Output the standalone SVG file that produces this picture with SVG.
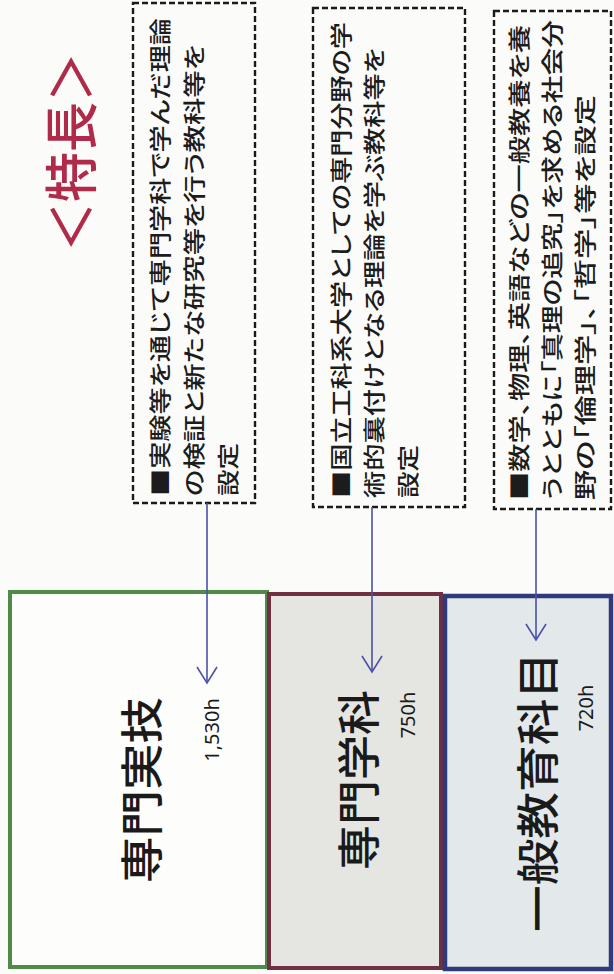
<svg xmlns="http://www.w3.org/2000/svg" width="614" height="974" viewBox="0 0 614 974">
<style>
.note{font-family:"Noto Sans CJK JP","Noto Sans CJK SC",sans-serif;font-size:22px;font-weight:500;fill:#1c1c1c;dominant-baseline:central;font-feature-settings:"palt"}
.big{font-family:"Noto Sans CJK JP","Noto Sans CJK SC",sans-serif;font-size:43px;font-weight:500;fill:#1a1a1a;dominant-baseline:central;text-anchor:middle}
.hrs{font-family:"Noto Sans","Open Sans",sans-serif;font-size:20px;fill:#1a1a1a;dominant-baseline:central;text-anchor:middle}
.dash{fill:none;stroke:#1a1a1a;stroke-width:2.4;stroke-dasharray:6 3}
.conn{stroke:#4b50a8;stroke-width:1.6;fill:none}
</style>
<defs>
<marker id="v" viewBox="-18 -12 20 24" refX="0" refY="0" markerWidth="20" markerHeight="24" markerUnits="userSpaceOnUse" orient="auto">
<path d="M-16,-10 L0,0 L-16,10" fill="none" stroke="#4b50a8" stroke-width="1.6"/>
</marker>
</defs>
<rect x="0" y="0" width="614" height="974" fill="#fbfbf9"/>
<g id="title">
<text transform="translate(68,152) rotate(-90)" font-family="'Noto Sans CJK JP','Noto Sans CJK SC',sans-serif" font-size="54" font-weight="500" fill="#b02a4a" text-anchor="middle" dominant-baseline="central" textLength="200" lengthAdjust="spacingAndGlyphs">＜特長＞</text>
</g>
<g id="note1">
<rect class="dash" x="133" y="3" width="122" height="500"/>
<text class="note" transform="translate(158,496) rotate(-90)" textLength="478" lengthAdjust="spacingAndGlyphs">■実験等を通じて専門学科で学んだ理論</text>
<text class="note" transform="translate(192,496) rotate(-90)" textLength="451" lengthAdjust="spacingAndGlyphs">の検証と新たな研究等を行う教科等を</text>
<text class="note" transform="translate(226,496) rotate(-90)" textLength="53" lengthAdjust="spacingAndGlyphs">設定</text>
</g>
<g id="note2">
<rect class="dash" x="313" y="8" width="152" height="499"/>
<text class="note" transform="translate(339,498) rotate(-90)" textLength="476" lengthAdjust="spacingAndGlyphs">■国立工科系大学としての専門分野の学</text>
<text class="note" transform="translate(372,498) rotate(-90)" textLength="450" lengthAdjust="spacingAndGlyphs">術的裏付けとなる理論を学ぶ教科等を</text>
<text class="note" transform="translate(406,498) rotate(-90)" textLength="53" lengthAdjust="spacingAndGlyphs">設定</text>
</g>
<g id="note3">
<rect class="dash" x="494" y="11" width="117" height="498"/>
<text class="note" transform="translate(517,500) rotate(-90)" textLength="475" lengthAdjust="spacingAndGlyphs">■数学、物理、英語などの一般教養を養</text>
<text class="note" transform="translate(550,500) rotate(-90)" textLength="480" lengthAdjust="spacingAndGlyphs">うとともに「真理の追究」を求める社会分</text>
<text class="note" transform="translate(583,500) rotate(-90)" textLength="405" lengthAdjust="spacingAndGlyphs">野の「倫理学」、「哲学」等を設定</text>
</g>
<g id="box-jitsugi">
<rect x="10" y="592" width="257" height="375" fill="#fdfdfc" stroke="#4f8a47" stroke-width="4"/>
<text class="big" transform="translate(139,790) rotate(-90)" textLength="186" lengthAdjust="spacingAndGlyphs">専門実技</text>
<text class="hrs" transform="translate(211,730) rotate(-90)">1,530h</text>
</g>
<g id="box-gakka">
<rect x="269" y="594" width="172" height="374" fill="#e5e5e1" stroke="#6e3042" stroke-width="4"/>
<text class="big" transform="translate(356,780) rotate(-90)" textLength="180" lengthAdjust="spacingAndGlyphs">専門学科</text>
<text class="hrs" transform="translate(407,715) rotate(-90)">750h</text>
</g>
<g id="box-ippan">
<rect x="445" y="596" width="166" height="373" fill="#e3e8ea" stroke="#2f3a7a" stroke-width="4.5"/>
<text class="big" transform="translate(535,792) rotate(-90)" font-size="41" textLength="280" lengthAdjust="spacingAndGlyphs">一般教育科目</text>
<text class="hrs" transform="translate(585,708) rotate(-90)">720h</text>
</g>
<g id="connectors">
<line class="conn" x1="207" y1="503" x2="207" y2="683" marker-end="url(#v)"/>
<line class="conn" x1="372" y1="507" x2="372" y2="672" marker-end="url(#v)"/>
<line class="conn" x1="536" y1="509" x2="536" y2="640" marker-end="url(#v)"/>
</g>
</svg>
